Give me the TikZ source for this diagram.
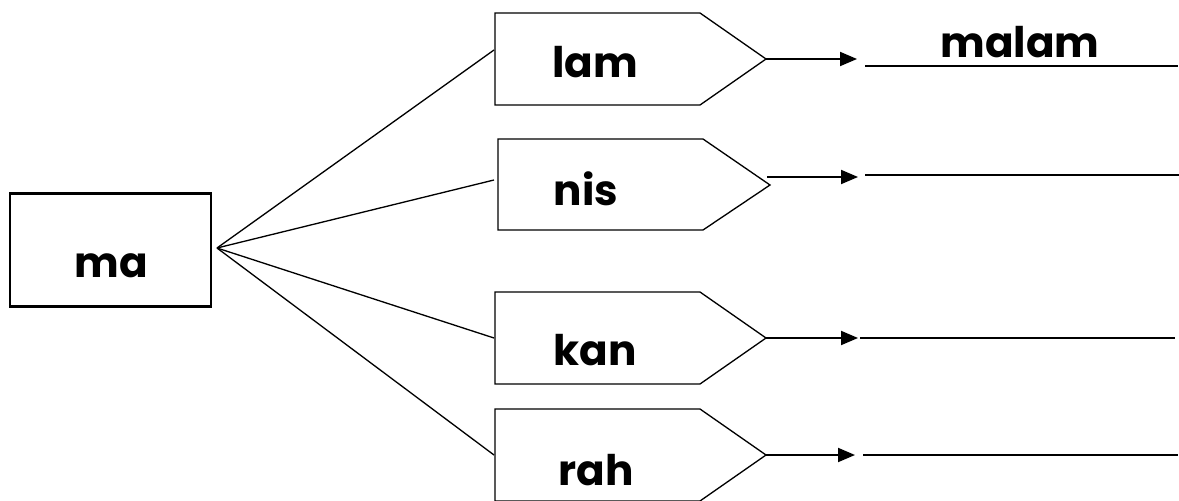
\documentclass[tikz,border=0pt]{standalone}
\usepackage{fontspec}
\setmainfont{Poppins}
\usetikzlibrary{arrows.meta}

\begin{document}
\begin{tikzpicture}[x=0.02cm, y=-0.02cm,
  word/.style={font=\fontsize{24}{29}\selectfont\bfseries, inner sep=0pt, anchor=base},
  tagline/.style={line width=0.75pt, line join=miter},
  fan/.style={line width=0.75pt},
  arr/.style={line width=1.1pt, -{Triangle[length=0.34cm, width=0.28cm]}},
  ans/.style={line width=1.1pt}]

\useasboundingbox (0,0) rectangle (1179,500);

% Root box
\node[draw, line width=1.3pt, minimum width=4.03cm, minimum height=2.26cm, inner sep=0pt] (mabox) at (110.5,250) {};
\node[word] (ma) at (111,277) {ma};
\coordinate (hub) at (217,248);

% Tag shapes
\draw[tagline] (495,13) -- (700,13) -- (766,59) -- (700,105) -- (495,105) -- cycle;
\draw[tagline] (498,139) -- (703,139) -- (770,185) -- (703,230) -- (498,230) -- cycle;
\draw[tagline] (495,292) -- (700,292) -- (766,338) -- (700,384) -- (495,384) -- cycle;
\draw[tagline] (495,409) -- (700,409) -- (766,455) -- (700,501) -- (495,501) -- cycle;

% Tag labels
\node[word] (lam) at (595,78)  {lam};
\node[word] (nis) at (586,205) {nis};
\node[word] (kan) at (595,365) {kan};
\node[word] (rah) at (596,485) {rah};

% Fan end points
\coordinate (lamL) at (494,50);
\coordinate (nisL) at (494,180);
\coordinate (kanL) at (494,338);
\coordinate (rahL) at (494,455);

% Fan
\draw[fan] (hub) -- (lamL);
\draw[fan] (hub) -- (nisL);
\draw[fan] (hub) -- (kanL);
\draw[fan] (hub) -- (rahL);

% Arrow ends
\coordinate (lamT) at (766,59);  \coordinate (lamE) at (857,59);
\coordinate (nisT) at (767,177); \coordinate (nisE) at (858,177);
\coordinate (kanT) at (766,338); \coordinate (kanE) at (858,338);
\coordinate (rahT) at (766,455); \coordinate (rahE) at (855,455);

% Arrows
\draw[arr] (lamT) -- (lamE);
\draw[arr] (nisT) -- (nisE);
\draw[arr] (kanT) -- (kanE);
\draw[arr] (rahT) -- (rahE);

% Answer lines
\draw[ans] (865,66) -- (1178,66);
\draw[ans] (865,175) -- (1179,175);
\draw[ans] (860,338) -- (1175,338);
\draw[ans] (863,455) -- (1178,455);

% Answer
\node[word] (malam) at (1020,58) {malam};

\end{tikzpicture}
\end{document}
